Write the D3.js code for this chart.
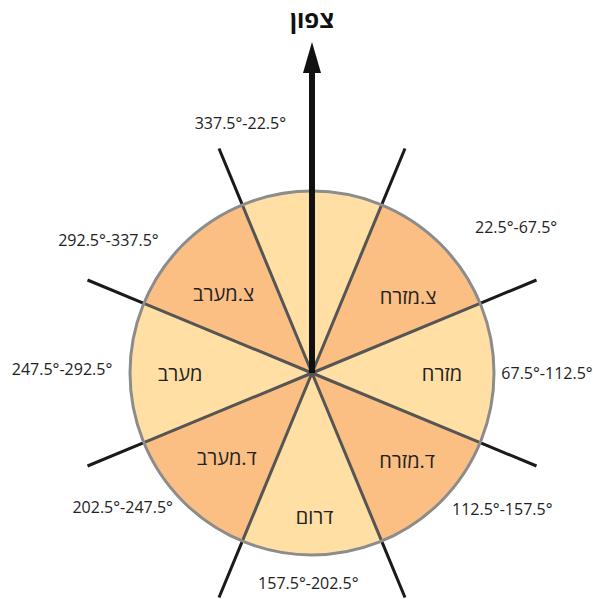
<!DOCTYPE html>
<html>
<head>
<meta charset="utf-8">
<script src="https://cdn.jsdelivr.net/npm/d3@7"></script>
<style>
  body { margin: 0; background: #fff; }
  text { font-family: "Open Sans", "Noto Sans", sans-serif; }
</style>
</head>
<body>
<div id="chart"></div>
<script>
// data
const title = "צפון";
const sectorNames = ["", "צ.מזרח", "מזרח", "ד.מזרח", "דרום", "ד.מערב", "מערב", "צ.מערב"];
const sectorRanges = ["337.5°-22.5°", "22.5°-67.5°", "67.5°-112.5°", "112.5°-157.5°",
                      "157.5°-202.5°", "202.5°-247.5°", "247.5°-292.5°", "292.5°-337.5°"];
const boundaryBearings = [22.5, 67.5, 112.5, 157.5, 202.5, 247.5, 292.5, 337.5];

const width = 593, height = 599;
const cx = 312, cy = 373, radius = 182, lineLen = 243;

// label layout: [bearing, distance] for the names and the ranges
const nameLayout = [[0, 0], [51.3, 123], [90, 130], [132.5, 129], [179, 144], [225.3, 120], [270, 132], [312, 119]];
const rangeLayout = [[-16, 260], [54.4, 251], [90, 235], [125.6, 234], [181, 210], [234.7, 232], [271, 250], [303.1, 243]];

const svg = d3.select("#chart").append("svg")
    .attr("width", width)
    .attr("height", height);

const g = svg.append("g").attr("transform", "translate(" + cx + "," + cy + ")");

const rad = d => d * Math.PI / 180;
const polar = (bearing, r) => [r * Math.sin(rad(bearing)), -r * Math.cos(rad(bearing))];

const pie = d3.pie().value(1).sort(null)
    .startAngle(rad(-22.5)).endAngle(rad(337.5));
const arc = d3.arc().innerRadius(0).outerRadius(radius);

g.selectAll("path.sector")
    .data(pie(sectorNames))
    .enter()
    .append("path")
    .attr("class", "sector")
    .attr("d", arc)
    .attr("fill", (d, i) => i % 2 === 0 ? "#ffdfa4" : "#fbbf83");

// outer parts of boundary lines
g.selectAll("line.outer")
    .data(boundaryBearings)
    .enter()
    .append("line")
    .attr("x1", d => polar(d, radius)[0])
    .attr("y1", d => polar(d, radius)[1])
    .attr("x2", d => polar(d, lineLen)[0])
    .attr("y2", d => polar(d, lineLen)[1])
    .attr("stroke", "#1a1a1a")
    .attr("stroke-width", 3);

// inner parts
g.selectAll("line.inner")
    .data(boundaryBearings)
    .enter()
    .append("line")
    .attr("x1", 0)
    .attr("y1", 0)
    .attr("x2", d => polar(d, radius)[0])
    .attr("y2", d => polar(d, radius)[1])
    .attr("stroke", "#555")
    .attr("stroke-width", 3);

g.append("circle")
    .attr("r", radius)
    .attr("fill", "none")
    .attr("stroke", "#8c8c8c")
    .attr("stroke-width", 3);

// north arrow
g.append("line")
    .attr("x1", 0).attr("y1", 0)
    .attr("x2", 0).attr("y2", -(cy - 72))
    .attr("stroke", "#111")
    .attr("stroke-width", 6);

g.append("path")
    .attr("d", d3.line()([[0, -(cy - 42)], [-9, -(cy - 73)], [9, -(cy - 73)]]) + "Z")
    .attr("fill", "#111");

svg.append("text")
    .attr("x", cx)
    .attr("y", 28)
    .attr("text-anchor", "middle")
    .style("font-size", "24px")
    .style("font-weight", "bold")
    .attr("fill", "#111")
    .text(title);

// sector names
g.selectAll("text.name")
    .data(sectorNames)
    .enter()
    .append("text")
    .attr("class", "name")
    .attr("x", (d, i) => polar(nameLayout[i][0], nameLayout[i][1])[0])
    .attr("y", (d, i) => polar(nameLayout[i][0], nameLayout[i][1])[1])
    .attr("text-anchor", "middle")
    .attr("dominant-baseline", "central")
    .style("font-size", "20px")
    .attr("fill", "#222")
    .text(d => d);

// degree ranges
g.selectAll("text.range")
    .data(sectorRanges)
    .enter()
    .append("text")
    .attr("class", "range")
    .attr("x", (d, i) => polar(rangeLayout[i][0], rangeLayout[i][1])[0])
    .attr("y", (d, i) => polar(rangeLayout[i][0], rangeLayout[i][1])[1])
    .attr("text-anchor", "middle")
    .attr("dominant-baseline", "central")
    .attr("direction", "ltr")
    .style("font-size", "16px")
    .attr("fill", "#222")
    .text(d => d);
</script>
</body>
</html>
